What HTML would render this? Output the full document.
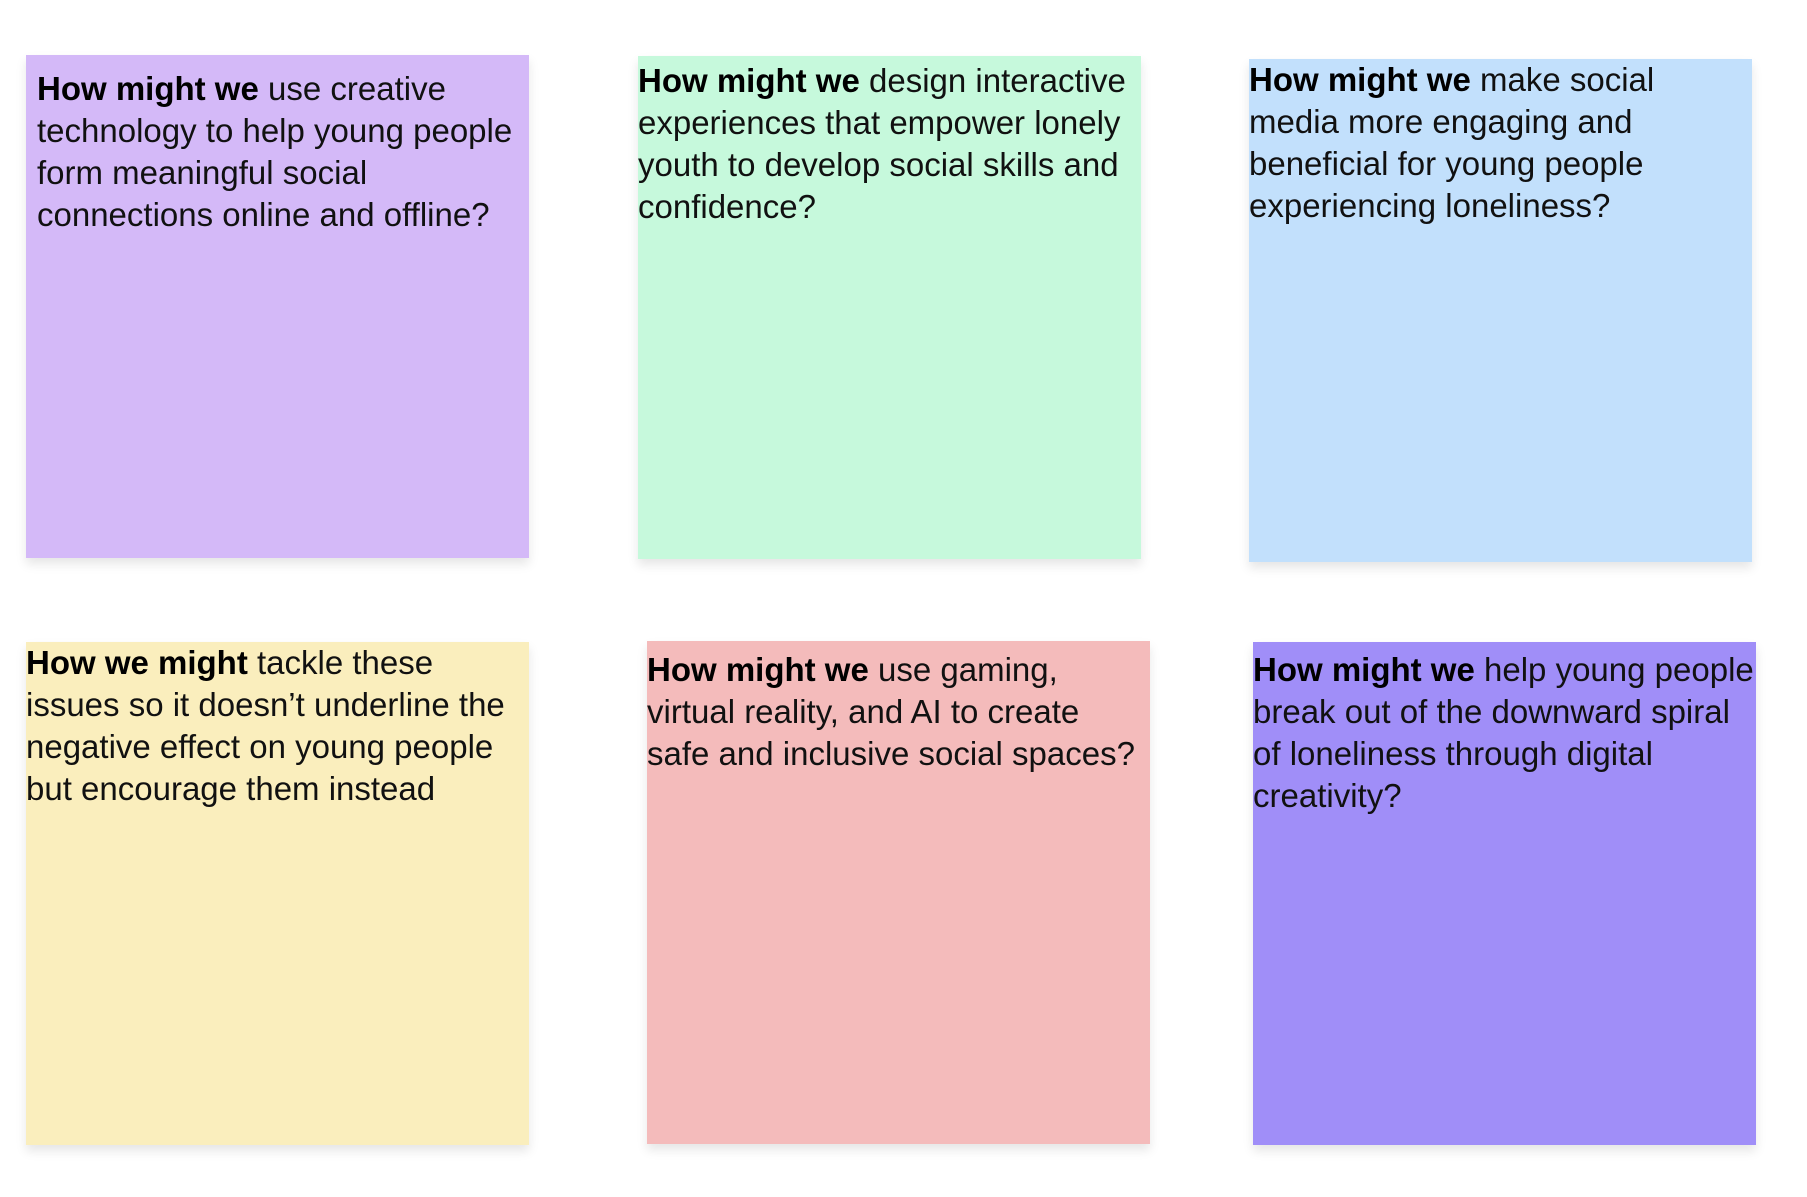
<!DOCTYPE html>
<html><head><meta charset="utf-8"><style>
html,body{margin:0;padding:0;background:#fff;}
body{width:1807px;height:1197px;position:relative;overflow:hidden;font-family:"Liberation Sans",sans-serif;}
.s{position:absolute;width:503px;height:503px;box-shadow:0 6px 10px rgba(0,0,0,0.10);}
.t{position:absolute;font-size:33px;line-height:42px;color:#111;white-space:nowrap;}
b{color:#000;}
</style></head><body>
<div class="s" style="left:26px;top:55px;background:#d4b9f8"></div>
<div class="s" style="left:638px;top:56px;background:#c6f9dc"></div>
<div class="s" style="left:1249px;top:59px;background:#c2e0fc"></div>
<div class="s" style="left:26px;top:642px;background:#faeebd"></div>
<div class="s" style="left:647px;top:641px;background:#f4bbbb"></div>
<div class="s" style="left:1253px;top:642px;background:#a08ef8"></div>

<div class="t" style="left:37px;top:68px"><b>How might we</b> use creative<br>technology to help young people<br>form meaningful social<br>connections online and offline?</div>
<div class="t" style="left:638px;top:60px"><b>How might we</b> design interactive<br>experiences that empower lonely<br>youth to develop social skills and<br>confidence?</div>
<div class="t" style="left:1249px;top:59px"><b>How might we</b> make social<br>media more engaging and<br>beneficial for young people<br>experiencing loneliness?</div>
<div class="t" style="left:26px;top:642px"><b>How we might</b> tackle these<br>issues so it doesn’t underline the<br>negative effect on young people<br>but encourage them instead</div>
<div class="t" style="left:647px;top:649px"><b>How might we</b> use gaming,<br>virtual reality, and AI to create<br>safe and inclusive social spaces?</div>
<div class="t" style="left:1253px;top:649px"><b>How might we</b> help young people<br>break out of the downward spiral<br>of loneliness through digital<br>creativity?</div>
</body></html>
